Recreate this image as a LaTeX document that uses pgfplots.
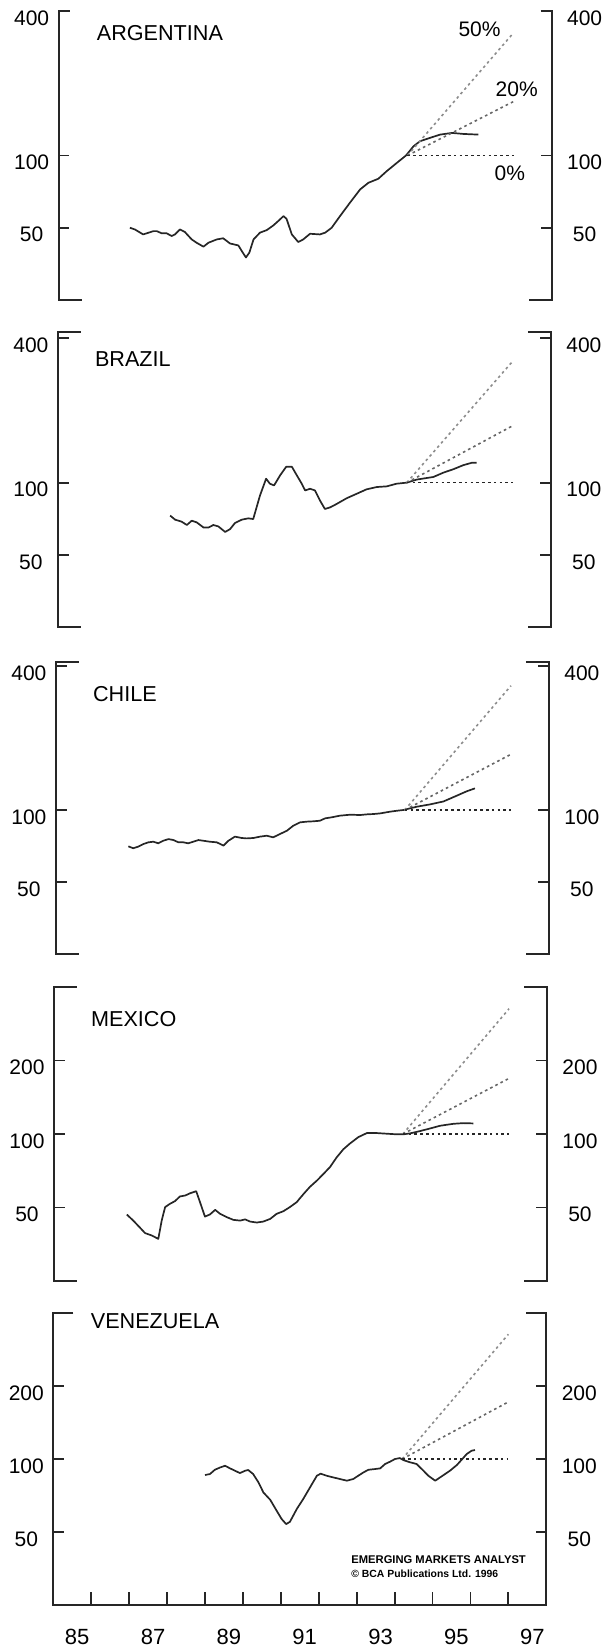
\documentclass[border=0pt]{standalone}
\usepackage{fontspec}
\setmainfont{Liberation Sans}
\usepackage{pgfplots}
\pgfplotsset{compat=1.18}

\tikzset{
  bcaseries/.style={black!85, line width=0.85pt, line join=round},
  bcap50/.style={black!45, line width=0.8pt, dash pattern=on 1.3pt off 1.6pt},
  bcap20/.style={black!60, line width=0.8pt, dash pattern=on 1.3pt off 1.6pt},
  bcap0/.style={black!85, line width=0.8pt, dash pattern=on 1.3pt off 1.6pt},
  bcaframe/.style={line width=1pt, black!85, line join=miter},
  bcacountry/.style={anchor=west, inner sep=0pt, font=\fontsize{10.8}{12}\selectfont},
  bcapct/.style={anchor=center, inner sep=0pt, font=\fontsize{10.5}{12}\selectfont},
}
\newcommand\panelframe[1]{%
  \draw[bcaframe] (rel axis cs:0,1) ++(#1,0pt) -- (rel axis cs:0,1) -- (rel axis cs:0,0) -- ++(11.5pt,0pt);
  \draw[bcaframe] (rel axis cs:1,1) ++(-#1,0pt) -- (rel axis cs:1,1) -- (rel axis cs:1,0) -- ++(-11.5pt,0pt);
}

\begin{document}
\begin{tikzpicture}
\path[use as bounding box] (0,0) rectangle (302.5pt,-825pt);

% ---------------- ARGENTINA ----------------
\begin{axis}[scale only axis, width=246.5pt, height=144.5pt, at={(29.3pt,-150pt)}, anchor=south west,
  xmin=1985, xmax=1998, ymode=log, ymin=25, ymax=400,
  axis line style={draw=none}, clip=false, tick align=inside, xtick=\empty,
  major tick length=5.4pt, tick style={line width=0.9pt, black!85},
  ytick={50,100,400}, yticklabels={50,100,400}, ytick pos=both, yticklabel pos=left,
  yticklabel style={font=\fontsize{10.5}{12}\selectfont, anchor=center, yshift=-3.5pt, xshift=-13.5pt}]
\addplot[bcaseries] coordinates {
(1986.88,50.0) (1987.01,49.2) (1987.23,46.9) (1987.50,48.4) (1987.59,48.4) (1987.72,47.4)
(1987.85,47.4) (1987.98,46.2) (1988.07,46.9) (1988.20,49.2) (1988.33,48.0) (1988.51,44.7)
(1988.64,43.3) (1988.82,41.7) (1988.95,43.3) (1989.17,44.7) (1989.34,45.2) (1989.52,43.0)
(1989.74,42.2) (1989.83,40.0) (1989.94,37.6) (1990.03,39.4) (1990.14,44.7) (1990.31,47.7)
(1990.49,48.9) (1990.66,51.1) (1990.79,53.3) (1990.93,55.9) (1991.01,54.5) (1991.15,46.9)
(1991.32,43.6) (1991.45,44.7) (1991.63,47.2) (1991.89,46.9) (1992.03,47.7) (1992.20,50.0)
(1992.42,55.9) (1992.68,63.5) (1992.95,72.2) (1993.17,77.0) (1993.43,80.0) (1993.65,86.0)
(1993.92,93.2) (1994.16,100) (1994.36,109.3) (1994.53,114.7) (1994.79,118.4) (1995.06,122.2)
(1995.37,124.2) (1995.67,123.0) (1996.07,122.2)};
\addplot[bcap50] coordinates {(1994.2,100) (1997.0,325)};
\addplot[bcap20] coordinates {(1994.2,100) (1997.0,168)};
\addplot[bcap0] coordinates {(1994.2,100) (1997.0,100)};
\node[bcacountry] at (axis cs:1986.0,323) {ARGENTINA};
\node[bcapct] at (axis cs:1996.10,336) {50\%};
\node[bcapct] at (axis cs:1997.08,188) {20\%};
\node[bcapct] at (axis cs:1996.90,84.7) {0\%};
\panelframe{5.5pt}
\end{axis}
\begin{axis}[scale only axis, width=246.5pt, height=144.5pt, at={(29.3pt,-150pt)}, anchor=south west,
  xmin=1985, xmax=1998, ymode=log, ymin=25, ymax=400,
  axis line style={draw=none}, xtick=\empty, major tick length=0pt,
  ytick={50,100,400}, yticklabels={50,100,400}, ytick pos=right, yticklabel pos=right,
  yticklabel style={font=\fontsize{10.5}{12}\selectfont, anchor=center, yshift=-3.5pt, xshift=16.5pt}]
\end{axis}

% ---------------- BRAZIL ----------------
\begin{axis}[scale only axis, width=246.5pt, height=147.5pt, at={(28.95pt,-313.5pt)}, anchor=south west,
  xmin=1985, xmax=1998, ymode=log, ymin=25, ymax=425,
  axis line style={draw=none}, clip=false, tick align=inside, xtick=\empty,
  major tick length=5.4pt, tick style={line width=0.9pt, black!85},
  ytick={50,100,400}, yticklabels={50,100,400}, ytick pos=both, yticklabel pos=left,
  yticklabel style={font=\fontsize{10.5}{12}\selectfont, anchor=center, yshift=-3.5pt, xshift=-13.5pt}]
\addplot[bcaseries] coordinates {
(1987.96,72.9) (1988.09,70.1) (1988.26,68.8) (1988.40,66.6) (1988.53,69.4) (1988.66,68.3)
(1988.84,65.0) (1988.97,65.0) (1989.10,66.6) (1989.23,65.7) (1989.41,62.3) (1989.54,64.0)
(1989.67,67.9) (1989.85,70.1) (1990.02,71.0) (1990.15,70.5) (1990.33,88.5) (1990.49,103.9)
(1990.59,99.0) (1990.70,97.4) (1990.86,107.3) (1991.02,116.5) (1991.17,116.5) (1991.30,107.3)
(1991.43,99.0) (1991.52,92.8) (1991.65,94.3) (1991.78,92.8) (1991.91,84.3) (1992.04,77.7)
(1992.18,78.9) (1992.35,81.5) (1992.62,86.2) (1992.88,89.9) (1993.14,93.8) (1993.41,95.9)
(1993.67,96.5) (1993.93,99.0) (1994.20,100.0) (1994.46,103.0) (1994.73,104.6) (1994.90,105.6)
(1995.17,110.2) (1995.43,113.8) (1995.69,118.3) (1995.91,121.0) (1996.04,121.0)};
\addplot[bcap50] coordinates {(1994.2,100) (1997.0,322)};
\addplot[bcap20] coordinates {(1994.2,100) (1997.0,173)};
\addplot[bcap0] coordinates {(1994.2,100) (1997.0,100)};
\node[bcacountry] at (axis cs:1985.97,327) {BRAZIL};
\panelframe{11.5pt}
\end{axis}
\begin{axis}[scale only axis, width=246.5pt, height=147.5pt, at={(28.95pt,-313.5pt)}, anchor=south west,
  xmin=1985, xmax=1998, ymode=log, ymin=25, ymax=425,
  axis line style={draw=none}, xtick=\empty, major tick length=0pt,
  ytick={50,100,400}, yticklabels={50,100,400}, ytick pos=right, yticklabel pos=right,
  yticklabel style={font=\fontsize{10.5}{12}\selectfont, anchor=center, yshift=-3.5pt, xshift=16.5pt}]
\end{axis}

% ---------------- CHILE ----------------
\begin{axis}[scale only axis, width=246.5pt, height=145.9pt, at={(27.95pt,-477pt)}, anchor=south west,
  xmin=1985, xmax=1998, ymode=log, ymin=25, ymax=415,
  axis line style={draw=none}, clip=false, tick align=inside, xtick=\empty,
  major tick length=5.4pt, tick style={line width=0.9pt, black!85},
  ytick={50,100,400}, yticklabels={50,100,400}, ytick pos=both, yticklabel pos=left,
  yticklabel style={font=\fontsize{10.5}{12}\selectfont, anchor=center, yshift=-3.5pt, xshift=-13.5pt}]
\addplot[bcaseries] coordinates {
(1986.91,70.5) (1987.04,69.2) (1987.17,70.3) (1987.31,72.1) (1987.44,73.3) (1987.57,73.7)
(1987.70,72.6) (1987.83,74.4) (1987.97,75.6) (1988.10,74.9) (1988.23,73.3) (1988.36,73.3)
(1988.49,72.6) (1988.62,73.7) (1988.76,74.9) (1988.89,74.4) (1989.06,73.7) (1989.24,73.3)
(1989.42,71.0) (1989.55,74.4) (1989.72,77.4) (1989.90,76.4) (1990.03,76.1) (1990.21,76.4)
(1990.38,77.4) (1990.56,78.1) (1990.73,76.9) (1990.91,79.4) (1991.09,81.9) (1991.26,86.0)
(1991.44,88.8) (1991.61,89.4) (1991.79,89.7) (1991.96,90.2) (1992.10,92.3) (1992.27,93.2)
(1992.49,94.7) (1992.76,95.6) (1993.02,95.3) (1993.20,95.9) (1993.37,96.2) (1993.55,96.8)
(1993.81,98.4) (1993.99,99.3) (1994.16,100.0) (1994.51,103.2) (1994.87,105.6) (1995.22,108.6)
(1995.57,114.8) (1995.83,119.7) (1996.05,123.2)};
\addplot[bcap50] coordinates {(1994.2,100) (1997.0,331)};
\addplot[bcap20] coordinates {(1994.2,100) (1997.0,171)};
\addplot[bcap0] coordinates {(1994.2,100) (1997.0,100)};
\node[bcacountry] at (axis cs:1985.97,305) {CHILE};
\panelframe{11.5pt}
\end{axis}
\begin{axis}[scale only axis, width=246.5pt, height=145.9pt, at={(27.95pt,-477pt)}, anchor=south west,
  xmin=1985, xmax=1998, ymode=log, ymin=25, ymax=415,
  axis line style={draw=none}, xtick=\empty, major tick length=0pt,
  ytick={50,100,400}, yticklabels={50,100,400}, ytick pos=right, yticklabel pos=right,
  yticklabel style={font=\fontsize{10.5}{12}\selectfont, anchor=center, yshift=-3.5pt, xshift=16.5pt}]
\end{axis}

% ---------------- MEXICO ----------------
\begin{axis}[scale only axis, width=246.5pt, height=147pt, at={(27pt,-640.5pt)}, anchor=south west,
  xmin=1985, xmax=1998, ymode=log, ymin=25, ymax=400,
  axis line style={draw=none}, clip=false, tick align=inside, xtick=\empty,
  major tick length=5.4pt, tick style={line width=0.9pt, black!85},
  ytick={50,100,200}, yticklabels={50,100,200}, ytick pos=both, yticklabel pos=left,
  yticklabel style={font=\fontsize{10.5}{12}\selectfont, anchor=center, yshift=-3.5pt, xshift=-13.5pt}]
\addplot[bcaseries] coordinates {
(1986.92,46.8) (1987.09,44.2) (1987.27,41.3) (1987.40,39.3) (1987.58,38.4) (1987.75,37.2)
(1987.84,44.2) (1987.93,50.2) (1988.06,51.8) (1988.19,53.1) (1988.32,55.5) (1988.46,56.0)
(1988.59,57.2) (1988.75,58.3) (1988.85,52.6) (1988.98,45.9) (1989.11,46.8) (1989.25,48.9)
(1989.38,47.1) (1989.55,45.7) (1989.73,44.5) (1989.91,44.2) (1990.04,44.7) (1990.17,43.8)
(1990.35,43.4) (1990.52,43.8) (1990.70,44.9) (1990.87,47.1) (1991.05,48.3) (1991.22,50.2)
(1991.40,52.6) (1991.58,56.8) (1991.75,60.8) (1991.93,64.4) (1992.10,68.5) (1992.28,73.3)
(1992.45,80.1) (1992.63,86.6) (1992.81,91.6) (1993.03,97.2) (1993.25,100.9) (1993.51,100.9)
(1993.77,100.3) (1994.04,99.7) (1994.21,99.7) (1994.39,100.6) (1994.65,102.8) (1994.92,105.4)
(1995.18,108.1) (1995.53,110.1) (1995.79,110.8) (1996.06,110.5)};
\addplot[bcap50] coordinates {(1994.2,100) (1997.0,326)};
\addplot[bcap20] coordinates {(1994.2,100) (1997.0,169)};
\addplot[bcap0] coordinates {(1994.2,100) (1997.0,100)};
\node[bcacountry] at (axis cs:1985.97,297) {MEXICO};
\panelframe{11.5pt}
\end{axis}
\begin{axis}[scale only axis, width=246.5pt, height=147pt, at={(27pt,-640.5pt)}, anchor=south west,
  xmin=1985, xmax=1998, ymode=log, ymin=25, ymax=400,
  axis line style={draw=none}, xtick=\empty, major tick length=0pt,
  ytick={50,100,200}, yticklabels={50,100,200}, ytick pos=right, yticklabel pos=right,
  yticklabel style={font=\fontsize{10.5}{12}\selectfont, anchor=center, yshift=-3.5pt, xshift=16.5pt}]
\end{axis}

% ---------------- VENEZUELA ----------------
\begin{axis}[scale only axis, width=246.5pt, height=146pt, at={(26.65pt,-802.5pt)}, anchor=south west,
  xmin=1985, xmax=1998, ymode=log, ymin=25, ymax=400,
  axis line style={draw=none}, clip=false, tick align=inside,
  major tick length=5.4pt, tick style={line width=0.9pt, black!85},
  ytick={50,100,200}, yticklabels={50,100,200}, ytick pos=both, yticklabel pos=left,
  yticklabel style={font=\fontsize{10.5}{12}\selectfont, anchor=center, yshift=-3.5pt, xshift=-13.5pt},
  xtick={1986,1987,1988,1989,1990,1991,1992,1993,1994,1995,1996,1997},
  xticklabels={,,,,,,,,,,,},
  xtick pos=bottom,
  xtick style={/pgfplots/major tick length=6.5pt},
  extra x ticks={1985.63,1987.63,1989.63,1991.63,1993.63,1995.63,1997.63},
  extra x tick labels={85,87,89,91,93,95,97},
  extra x tick style={major tick length=0pt, tick style={draw=none}},
  xticklabel style={font=\fontsize{11}{12}\selectfont, anchor=center, yshift=-16pt}]
\addplot[bcaseries] coordinates {
(1989.00,85.9) (1989.13,86.7) (1989.26,90.3) (1989.40,92.3) (1989.53,93.8) (1989.66,91.5)
(1989.79,89.5) (1989.92,87.5) (1990.06,89.5) (1990.14,90.1) (1990.27,86.7) (1990.41,80.1)
(1990.54,72.8) (1990.72,67.9) (1990.89,61.2) (1991.02,56.6) (1991.14,53.9) (1991.24,55.1)
(1991.42,62.2) (1991.59,68.4) (1991.77,76.4) (1991.95,85.3) (1992.05,87.0) (1992.21,85.3)
(1992.38,84.0) (1992.56,82.7) (1992.74,81.4) (1992.91,82.7) (1993.04,85.3) (1993.18,88.1)
(1993.31,90.3) (1993.48,90.9) (1993.62,91.5) (1993.75,95.4) (1993.88,97.5) (1994.01,100.0)
(1994.14,100.9) (1994.23,99.0) (1994.41,96.9) (1994.58,95.4) (1994.76,89.5) (1994.89,85.3)
(1995.07,81.4) (1995.24,84.8) (1995.46,89.5) (1995.64,94.4) (1995.77,99.4) (1995.90,104.8)
(1996.03,108.2) (1996.12,108.9)};
\addplot[bcap50] coordinates {(1994.2,100) (1997.0,327)};
\addplot[bcap20] coordinates {(1994.2,100) (1997.0,172)};
\addplot[bcap0] coordinates {(1994.2,100) (1997.0,100)};
\node[bcacountry] at (axis cs:1985.98,371) {VENEZUELA};
\node[anchor=west, inner sep=0pt, font=\fontsize{5.6}{6}\selectfont\bfseries] at (axis cs:1992.85,38.6) {EMERGING MARKETS ANALYST};
\node[anchor=west, inner sep=0pt, font=\fontsize{5.2}{6}\selectfont\bfseries] at (axis cs:1992.85,33.5) {\textcopyright\ BCA Publications Ltd. 1996};
\draw[bcaframe] (rel axis cs:0,1) ++(10pt,0pt) -- (rel axis cs:0,1) -- (rel axis cs:0,0) -- (rel axis cs:1,0) -- (rel axis cs:1,1) -- ++(-10pt,0pt);
\end{axis}
\begin{axis}[scale only axis, width=246.5pt, height=146pt, at={(26.65pt,-802.5pt)}, anchor=south west,
  xmin=1985, xmax=1998, ymode=log, ymin=25, ymax=400,
  axis line style={draw=none}, xtick=\empty, major tick length=0pt,
  ytick={50,100,200}, yticklabels={50,100,200}, ytick pos=right, yticklabel pos=right,
  yticklabel style={font=\fontsize{10.5}{12}\selectfont, anchor=center, yshift=-3.5pt, xshift=16.5pt}]
\end{axis}
\end{tikzpicture}
\end{document}
